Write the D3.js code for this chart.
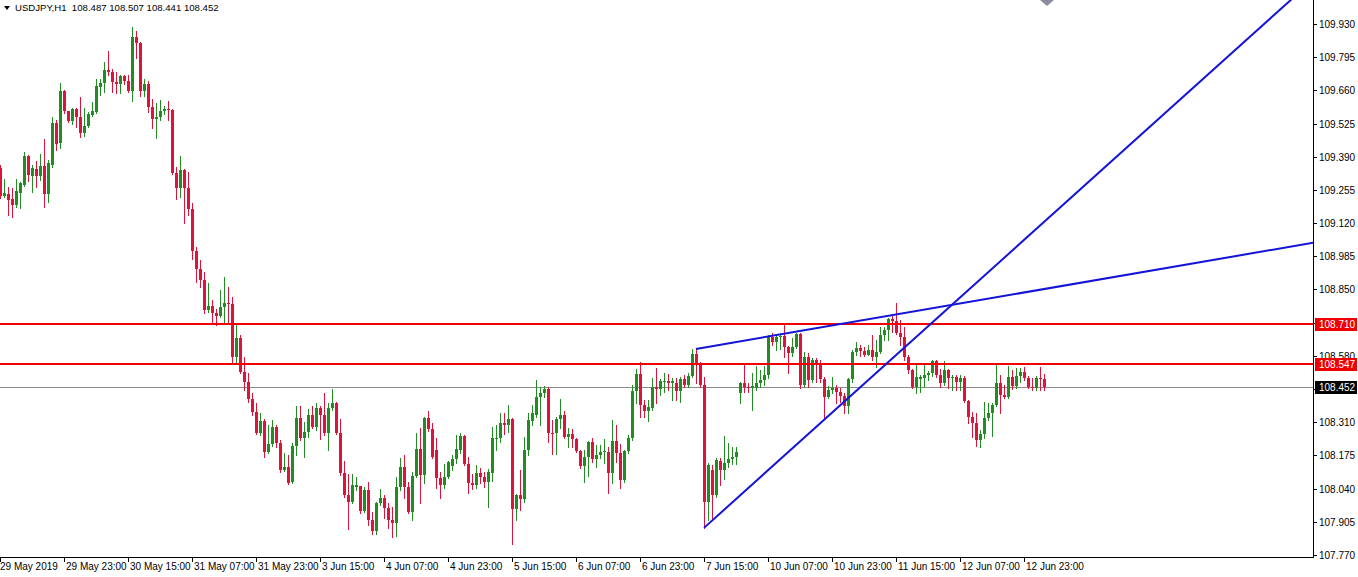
<!DOCTYPE html>
<html><head><meta charset="utf-8">
<script src="https://cdn.jsdelivr.net/npm/d3@7"></script>
<style>body{margin:0;background:#fff;overflow:hidden}svg{display:block}</style>
</head><body>
<script>
const symbolTitle = "USDJPY,H1  108.487 108.507 108.441 108.452";
const openP = [109.344,109.231,109.239,109.218,109.194,109.243,109.276,109.394,109.312,109.340,109.312,109.353,109.239,109.357,109.528,109.446,109.658,109.576,109.536,109.584,109.552,109.487,109.516,109.560,109.572,109.674,109.691,109.743,109.735,109.695,109.686,109.719,109.699,109.658,109.878,109.853,109.658,109.686,109.593,109.544,109.552,109.576,109.584,109.580,109.324,109.263,109.336,109.263,109.178,109.007,108.934,108.889,108.767,108.783,108.755,108.742,108.779,108.795,108.791,108.576,108.653,108.515,108.474,108.405,108.352,108.267,108.315,108.189,108.222,108.291,108.226,108.116,108.128,108.067,108.214,108.327,108.246,108.271,108.340,108.291,108.368,108.340,108.267,108.368,108.389,108.267,108.104,108.014,107.986,108.047,108.051,107.949,108.035,107.913,107.868,107.982,108.002,107.961,107.913,107.900,108.047,108.128,108.047,107.945,108.092,108.201,108.096,108.327,108.283,108.197,108.084,108.055,108.088,108.132,108.161,108.197,108.254,108.140,108.063,108.055,108.104,108.088,108.067,108.104,108.242,108.246,108.307,108.299,108.323,107.957,108.014,107.998,108.197,108.315,108.340,108.413,108.429,108.446,108.267,108.267,108.323,108.340,108.250,108.263,108.242,108.193,108.132,108.169,108.230,108.161,108.177,108.189,108.189,108.104,108.234,108.185,108.075,108.193,108.246,108.437,108.507,108.380,108.356,108.368,108.454,108.446,108.474,108.478,108.470,108.470,108.437,108.486,108.462,108.498,108.588,108.547,108.462,107.986,108.116,108.014,108.153,108.116,108.145,108.161,108.169,108.429,108.470,108.454,108.450,108.450,108.470,108.482,108.502,108.657,108.637,108.657,108.661,108.616,108.592,108.616,108.669,108.462,108.576,108.482,108.564,108.547,108.486,108.413,108.441,108.450,108.433,108.417,108.376,108.486,108.596,108.612,108.600,108.584,108.604,108.576,108.596,108.665,108.686,108.730,108.722,108.673,108.657,108.576,108.523,108.454,108.486,108.490,108.502,108.511,108.559,108.502,108.470,108.523,108.490,108.494,108.474,108.490,108.397,108.332,108.307,108.238,108.263,108.327,108.348,108.380,108.470,108.421,108.413,108.494,108.458,108.498,108.515,108.490,108.454,108.450,108.490,108.487];
const highP = [109.357,109.299,109.268,109.264,109.299,109.288,109.410,109.398,109.357,109.373,109.402,109.462,109.377,109.552,109.540,109.691,109.662,109.576,109.588,109.588,109.633,109.588,109.572,109.613,109.707,109.707,109.776,109.821,109.747,109.735,109.723,109.723,109.723,109.918,109.902,109.857,109.707,109.699,109.625,109.609,109.621,109.597,109.617,109.584,109.349,109.394,109.340,109.328,109.202,109.023,108.970,108.921,108.877,108.808,108.771,108.848,108.901,108.860,108.820,108.710,108.665,108.576,108.511,108.429,108.389,108.348,108.323,108.299,108.319,108.299,108.238,108.185,108.177,108.226,108.376,108.376,108.311,108.364,108.376,108.389,108.376,108.429,108.389,108.446,108.393,108.323,108.153,108.100,108.100,108.088,108.051,108.047,108.067,107.945,107.986,108.039,108.014,107.982,107.966,108.088,108.165,108.177,108.067,108.108,108.267,108.287,108.332,108.356,108.307,108.246,108.108,108.140,108.153,108.177,108.258,108.267,108.258,108.169,108.100,108.136,108.124,108.108,108.120,108.291,108.299,108.348,108.348,108.380,108.327,108.018,108.116,108.250,108.348,108.380,108.482,108.454,108.458,108.454,108.319,108.332,108.405,108.356,108.287,108.283,108.246,108.197,108.197,108.234,108.246,108.218,108.218,108.242,108.210,108.319,108.299,108.222,108.197,108.258,108.462,108.527,108.555,108.401,108.401,108.490,108.531,108.486,108.511,108.507,108.490,108.490,108.494,108.503,108.511,108.608,108.608,108.555,108.494,108.145,108.136,108.165,108.165,108.254,108.226,108.210,108.210,108.474,108.551,108.470,108.511,108.539,108.523,108.539,108.665,108.673,108.669,108.673,108.710,108.620,108.653,108.673,108.673,108.596,108.592,108.572,108.572,108.564,108.494,108.458,108.494,108.462,108.450,108.429,108.490,108.604,108.637,108.625,108.616,108.625,108.665,108.645,108.698,108.698,108.734,108.747,108.795,108.726,108.698,108.584,108.527,108.543,108.502,108.543,108.519,108.564,108.564,108.527,108.559,108.527,108.502,108.502,108.502,108.498,108.401,108.352,108.348,108.279,108.393,108.389,108.389,108.543,108.502,108.462,108.539,108.523,108.531,108.531,108.535,108.498,108.490,108.498,108.535,108.507];
const lowP = [109.222,109.227,109.154,109.146,109.186,109.182,109.272,109.292,109.247,109.268,109.296,109.186,109.206,109.349,109.418,109.426,109.568,109.532,109.524,109.512,109.471,109.475,109.512,109.556,109.568,109.641,109.654,109.723,109.654,109.650,109.650,109.686,109.654,109.617,109.792,109.637,109.637,109.572,109.507,109.466,109.540,109.564,109.540,109.320,109.218,109.227,109.121,109.154,108.974,108.881,108.860,108.755,108.759,108.714,108.706,108.738,108.714,108.710,108.552,108.552,108.511,108.441,108.393,108.340,108.263,108.258,108.169,108.185,108.214,108.210,108.108,108.112,108.059,108.063,108.177,108.238,108.169,108.250,108.287,108.279,108.242,108.258,108.197,108.360,108.263,108.096,108.006,107.876,107.982,108.035,107.941,107.945,107.892,107.856,107.856,107.974,107.921,107.880,107.843,107.847,108.035,108.002,107.941,107.913,108.088,107.982,108.063,108.275,108.165,108.043,108.002,108.043,108.084,108.116,108.145,108.185,108.136,108.022,108.039,108.043,108.063,108.047,107.966,108.071,108.197,108.230,108.263,108.271,107.815,107.913,107.953,107.986,108.177,108.299,108.332,108.299,108.413,108.230,108.181,108.181,108.287,108.246,108.210,108.210,108.189,108.124,108.067,108.092,108.149,108.128,108.165,108.145,108.022,108.063,108.149,108.043,108.067,108.185,108.238,108.389,108.332,108.332,108.315,108.360,108.389,108.421,108.433,108.441,108.401,108.401,108.393,108.454,108.454,108.494,108.470,108.454,107.880,107.913,107.913,108.006,108.055,108.079,108.128,108.140,108.140,108.388,108.433,108.433,108.360,108.441,108.454,108.462,108.490,108.625,108.604,108.608,108.576,108.511,108.580,108.612,108.450,108.454,108.454,108.474,108.474,108.474,108.327,108.409,108.429,108.389,108.393,108.348,108.348,108.474,108.584,108.580,108.580,108.584,108.564,108.535,108.592,108.645,108.645,108.678,108.669,108.625,108.564,108.511,108.450,108.429,108.433,108.454,108.482,108.498,108.494,108.454,108.462,108.450,108.441,108.441,108.441,108.393,108.307,108.250,108.214,108.210,108.246,108.319,108.254,108.376,108.348,108.409,108.409,108.446,108.450,108.474,108.482,108.450,108.441,108.441,108.441,108.441];
const closeP = [109.231,109.243,109.214,109.194,109.251,109.284,109.394,109.316,109.344,109.312,109.353,109.239,109.365,109.528,109.442,109.658,109.576,109.536,109.584,109.552,109.487,109.516,109.564,109.576,109.678,109.691,109.743,109.735,109.695,109.686,109.719,109.699,109.658,109.878,109.853,109.658,109.686,109.593,109.544,109.552,109.576,109.584,109.580,109.324,109.263,109.336,109.263,109.178,109.007,108.934,108.889,108.767,108.783,108.755,108.742,108.779,108.795,108.791,108.576,108.653,108.515,108.474,108.405,108.352,108.267,108.315,108.189,108.222,108.291,108.226,108.116,108.128,108.063,108.214,108.327,108.246,108.271,108.340,108.291,108.368,108.340,108.267,108.368,108.389,108.267,108.104,108.014,107.986,108.055,108.055,107.949,108.035,107.913,107.868,107.982,108.002,107.961,107.913,107.900,108.047,108.128,108.047,107.945,108.092,108.201,108.096,108.327,108.283,108.169,108.084,108.055,108.088,108.149,108.161,108.201,108.254,108.140,108.063,108.055,108.104,108.088,108.067,108.108,108.246,108.246,108.307,108.299,108.323,107.957,108.014,107.998,108.197,108.319,108.348,108.413,108.429,108.446,108.267,108.263,108.323,108.340,108.250,108.263,108.242,108.193,108.132,108.169,108.230,108.161,108.177,108.189,108.193,108.104,108.234,108.185,108.075,108.193,108.246,108.437,108.507,108.380,108.356,108.372,108.454,108.446,108.478,108.478,108.470,108.478,108.437,108.486,108.462,108.498,108.588,108.547,108.462,107.986,108.136,108.014,108.157,108.116,108.145,108.161,108.169,108.189,108.470,108.454,108.450,108.458,108.470,108.482,108.502,108.657,108.637,108.657,108.661,108.616,108.592,108.616,108.669,108.462,108.576,108.482,108.564,108.547,108.486,108.413,108.441,108.450,108.433,108.417,108.376,108.486,108.596,108.612,108.600,108.584,108.604,108.576,108.596,108.665,108.686,108.730,108.722,108.673,108.657,108.576,108.523,108.454,108.494,108.494,108.502,108.511,108.559,108.502,108.470,108.523,108.490,108.494,108.474,108.490,108.397,108.332,108.307,108.238,108.263,108.327,108.348,108.380,108.470,108.421,108.413,108.494,108.458,108.498,108.515,108.490,108.454,108.450,108.490,108.486,108.452];

const timeLabels = ["29 May 2019","29 May 23:00","30 May 15:00","31 May 07:00","31 May 23:00","3 Jun 15:00","4 Jun 07:00","4 Jun 23:00","5 Jun 15:00","6 Jun 07:00","6 Jun 23:00","7 Jun 15:00","10 Jun 07:00","10 Jun 23:00","11 Jun 15:00","12 Jun 07:00","12 Jun 23:00"];
const priceTicks = [109.930,109.795,109.660,109.525,109.390,109.255,109.120,108.985,108.850,108.715,108.580,108.445,108.310,108.175,108.040,107.905,107.770];
const levelLines = [108.710, 108.547];
const lastPrice = 108.452;
const trendLines = [
  {i1:174, p1:108.608, i2:224, p2:108.748},
  {i1:176, p1:107.880, i2:226, p2:108.612}
];
const priceMin = 107.7656, priceMax = 110.0276;

// bar times (hourly, weekends skipped)
const times = [];
{
  let t = Date.UTC(2019,4,29,7);
  while (times.length < closeP.length) {
    const d = new Date(t);
    const wd = d.getUTCDay();
    if (wd !== 0 && wd !== 6) times.push(d);
    t += 3600000;
  }
}
const fmtDate = d3.utcFormat("%-d %b %Y");
const fmtTime = d3.utcFormat("%-d %b %H:%M");

const W = 1358, H = 577, plotR = 1313, plotB = 557, yBottom = 556;
const svg = d3.select("body").append("svg").attr("width", W).attr("height", H)
  .style("font-family", "'Liberation Sans', Arial, sans-serif");
svg.append("rect").attr("width", W).attr("height", H).attr("fill", "#fff");

const x = d3.scaleLinear().domain([0, closeP.length - 1]).range([0, 1044]);
const y = d3.scaleLinear().domain([priceMin, priceMax]).range([yBottom, 0]);

const defs = svg.append("defs");
defs.append("clipPath").attr("id", "plotclip").append("rect")
  .attr("x", 0).attr("y", 0).attr("width", plotR).attr("height", plotB);

const plot = svg.append("g").attr("clip-path", "url(#plotclip)");

// last price line
plot.append("rect").attr("x", 0).attr("width", plotR)
  .attr("y", Math.round(y(lastPrice))).attr("height", 1).attr("fill", "#8c8c8c");

// candles
const data = closeP.map((c, i) => ({i, o: openP[i], h: highP[i], l: lowP[i], c}));
const cg = plot.append("g").attr("shape-rendering", "crispEdges");
const colUp = "#228b22", colDn = "#dc143c";
const candle = cg.selectAll("g.c").data(data).join("g").attr("class", "c");
candle.append("rect")
  .attr("x", d => Math.round(x(d.i)))
  .attr("width", 1)
  .attr("y", d => Math.round(y(d.h)))
  .attr("height", d => Math.max(1, Math.round(y(d.l)) - Math.round(y(d.h)) + 1))
  .attr("fill", d => d.c >= d.o ? colUp : colDn);
candle.append("rect")
  .attr("x", d => Math.round(x(d.i)) - 1)
  .attr("width", 3)
  .attr("y", d => Math.round(y(Math.max(d.o, d.c))))
  .attr("height", d => Math.max(1, Math.round(y(Math.min(d.o, d.c))) - Math.round(y(Math.max(d.o, d.c)))))
  .attr("fill", d => d.c >= d.o ? colUp : colDn);

// horizontal level lines
plot.selectAll("rect.lvl").data(levelLines).join("rect").attr("class", "lvl")
  .attr("x", 0).attr("width", plotR)
  .attr("y", d => Math.round(y(d)) - 1).attr("height", 2).attr("fill", "#f00000");

// trend lines (rays to the right)
const xEndIdx = x.invert(plotR + 2);
plot.selectAll("line.tl").data(trendLines).join("line").attr("class", "tl")
  .attr("x1", d => x(d.i1)).attr("y1", d => y(d.p1))
  .attr("x2", x(xEndIdx))
  .attr("y2", d => y(d.p1 + (d.p2 - d.p1) / (d.i2 - d.i1) * (xEndIdx - d.i1)))
  .attr("stroke", "#1414d8").attr("stroke-width", 2);

// chart shift marker
svg.append("path").attr("d", "M1040,0 L1054,0 L1047,6 Z").attr("fill", "#8a8aa0");

// axes lines
svg.append("rect").attr("x", plotR).attr("y", 0).attr("width", 1).attr("height", plotB + 1).attr("fill", "#000");
svg.append("rect").attr("x", 0).attr("y", plotB).attr("width", plotR + 1).attr("height", 1).attr("fill", "#000");

// price axis (ticks hidden behind the level boxes show only their marks)
const boxes = levelLines.map(p => ({p, bg: "#f00000"})).concat([{p: lastPrice, bg: "#000"}]);
const boxYs = boxes.map(b => Math.round(y(b.p)));
const pa = svg.append("g");
priceTicks.forEach(p => {
  const yy = Math.round(y(p));
  pa.append("rect").attr("x", plotR + 1).attr("y", yy).attr("width", 3).attr("height", 1).attr("fill", "#000");
  const hidden = boxYs.some(by => Math.abs(by - yy) < 5);
  if (!hidden) {
    pa.append("text").attr("x", plotR + 6).attr("y", yy).attr("dy", "0.35em")
      .attr("font-size", "10px").attr("fill", "#000").text(d3.format(".3f")(p));
  }
});
boxes.forEach(b => {
  const yy = Math.round(y(b.p));
  pa.append("rect").attr("x", plotR + 2).attr("y", yy - 6).attr("width", 42).attr("height", 13).attr("fill", b.bg);
  pa.append("text").attr("x", plotR + 6).attr("y", yy).attr("dy", "0.35em")
    .attr("font-size", "10px").attr("fill", "#fff").text(d3.format(".3f")(b.p));
});

// time axis
const ta = svg.append("g");
timeLabels.forEach((lab, k) => {
  let idx = times.findIndex(t => (k === 0 ? fmtDate(t) : fmtTime(t)) === lab);
  if (idx < 0) return;
  const xx = Math.round(x(idx));
  ta.append("rect").attr("x", xx).attr("y", plotB + 1).attr("width", 1).attr("height", 4).attr("fill", "#000");
  ta.append("text").attr("x", k === 0 ? 0 : xx + 2).attr("y", 570)
    .attr("font-size", "10px").attr("fill", "#000").text(lab);
});

// title
svg.append("path").attr("d", "M4,6 L10,6 L7,10 Z").attr("fill", "#000");
svg.append("text").attr("x", 15).attr("y", 11).attr("font-size", "9.6px")
  .style("white-space", "pre").attr("fill", "#000").text(symbolTitle);
</script>
</body></html>
